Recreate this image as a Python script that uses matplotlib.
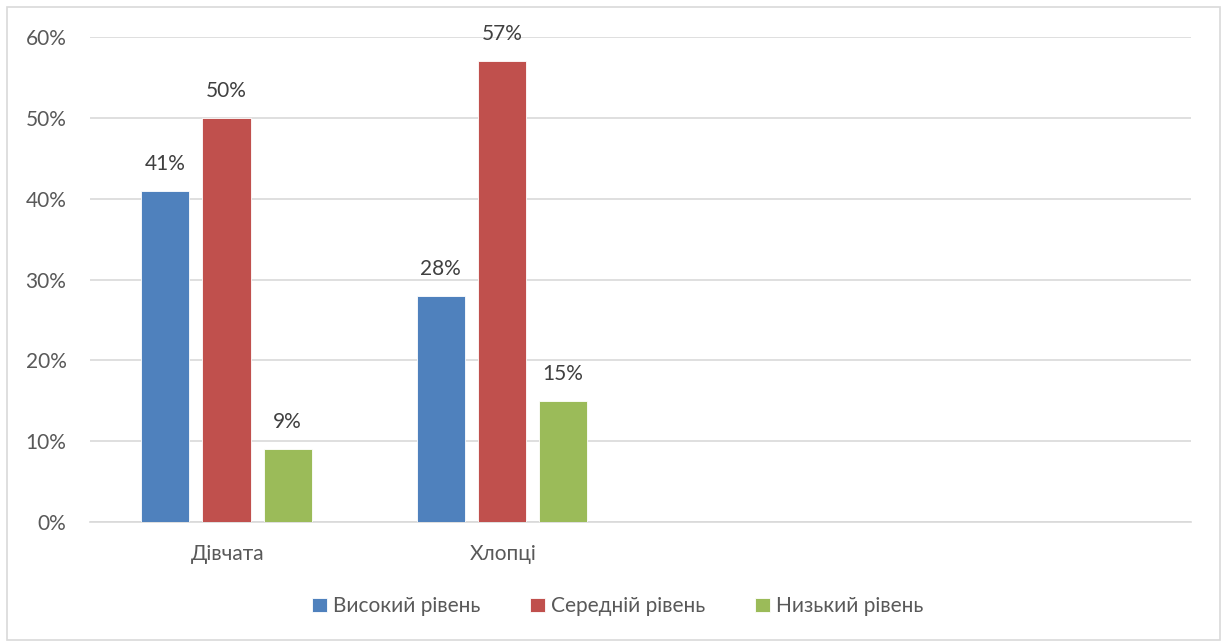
import numpy as np
import matplotlib.pyplot as plt
from matplotlib.patches import Rectangle

# Categories (the two trailing empty slots keep the axis width of the original sheet)
categories = ['Дівчата', 'Хлопці', '', '']
series_names = ['Високий рівень', 'Середній рівень', 'Низький рівень']
high = [41, 28, np.nan, np.nan]
medium = [50, 57, np.nan, np.nan]
low = [9, 15, np.nan, np.nan]
yticks = [0, 10, 20, 30, 40, 50, 60]

colors = ['#4F81BD', '#C0504D', '#9BBB59']
text_color = '#595959'

plt.rcParams['font.family'] = ['Lato', 'DejaVu Sans']

fig = plt.figure(figsize=(12.21, 6.41), dpi=100)
ax = fig.add_axes([0.0737, 0.1856, 0.9017, 0.7567])

x = np.arange(len(categories))
width = 0.1745
step = 0.222
for i, (name, vals, color) in enumerate(zip(series_names, [high, medium, low], colors)):
    pos = x + (i - 1) * step - 0.004
    ax.bar(pos, vals, width, color=color, label=name, edgecolor='white', linewidth=0.6, zorder=3)
    for xp, v in zip(pos, vals):
        if not np.isnan(v):
            ax.text(xp, v + 2.1, f'{v:.0f}%', ha='center', va='bottom', fontsize=15, color='#404040')

ax.set_xlim(-0.5, 3.5)
ax.set_ylim(0, 60)
ax.set_yticks(yticks)
ax.set_yticklabels([f'{t}%' for t in yticks], fontsize=15, color=text_color)
ax.set_xticks(x)
ax.set_xticklabels(categories, fontsize=15, color=text_color)
ax.tick_params(axis='x', length=0, pad=16)
ax.tick_params(axis='y', length=0, pad=17)
ax.grid(axis='y', color='#D9D9D9', linewidth=1.2, zorder=0)
for side in ['top', 'right', 'left']:
    ax.spines[side].set_visible(False)
ax.spines['bottom'].set_color('#D9D9D9')
ax.spines['bottom'].set_linewidth(1.2)

fig.legend(loc='center', bbox_to_anchor=(0.506, 0.054), ncol=3, frameon=False, fontsize=15,
           handlelength=0.7, handleheight=0.7, handletextpad=0.3, columnspacing=2.4,
           labelcolor=text_color)

# Light frame around the chart area
fig.patches.append(Rectangle((7 / 1221, 0.002), 1213 / 1221, 1 - 7 / 641 - 0.002, transform=fig.transFigure,
                             fill=False, edgecolor='#D9D9D9', linewidth=1.2))

fig.savefig('out.png', dpi=100)
